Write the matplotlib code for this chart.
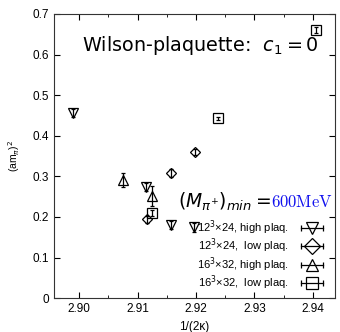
import matplotlib
matplotlib.use("Agg")
import matplotlib.pyplot as plt
from matplotlib.lines import Line2D
from matplotlib.legend_handler import HandlerLine2D
from matplotlib.ticker import MultipleLocator

plt.rcParams['font.family'] = ['Liberation Sans', 'DejaVu Sans']

# 12^3x24, high plaquette
x_12h = [2.8990, 2.9115, 2.9157, 2.9197]
y_12h = [0.455, 0.274, 0.180, 0.174]
e_12h = [0.010, 0.010, 0.010, 0.011]

# 12^3x24, low plaquette
x_12l = [2.9116, 2.9157, 2.9198]
y_12l = [0.194, 0.309, 0.360]
e_12l = [0.008, 0.010, 0.008]

# 16^3x32, high plaquette
x_16h = [2.9075, 2.9124]
y_16h = [0.290, 0.251]
e_16h = [0.017, 0.025]

# 16^3x32, low plaquette
x_16l = [2.9125, 2.9238, 2.9405]
y_16l = [0.210, 0.443, 0.661]
e_16l = [0.008, 0.004, 0.007]

labels = [r"12$^3$×24, high plaq.", r"12$^3$×24,  low plaq.",
          r"16$^3$×32, high plaq.", r"16$^3$×32,  low plaq."]
markers = ['v', 'D', '^', 's']

fig = plt.figure(figsize=(3.4, 3.32), dpi=100)
ax = fig.add_axes([0.159, 0.102, 0.826, 0.856])

series = [(x_12h, y_12h, e_12h), (x_12l, y_12l, e_12l),
          (x_16h, y_16h, e_16h), (x_16l, y_16l, e_16l)]
sizes = [6.5, 5, 7.5, 7]
for (x, y, e), m, s in zip(series, markers, sizes):
    ax.errorbar(x, y, yerr=e, fmt=m, ms=s, mfc='none', mec='k', mew=0.9,
                ecolor='k', elinewidth=0.9, capsize=1.5, capthick=0.9)

ax.set_xlim(2.8957, 2.9438)
ax.set_ylim(0, 0.7)
ax.xaxis.set_major_locator(MultipleLocator(0.01))
ax.xaxis.set_minor_locator(MultipleLocator(0.005))
ax.tick_params(which='both', direction='in', top=True, right=True, labelsize=8.5)
ax.tick_params(which='major', length=4)
ax.tick_params(which='minor', length=2.5)
ax.set_yticks([0, 0.1, 0.2, 0.3, 0.4, 0.5, 0.6, 0.7])
ax.set_yticklabels(['0', '0.1', '0.2', '0.3', '0.4', '0.5', '0.6', '0.7'])
for sp in ax.spines.values():
    sp.set_linewidth(0.8)
    sp.set_color('#333333')

ax.set_xlabel("1/(2κ)", fontsize=8.5, labelpad=4)
ax.set_ylabel(r"(am$_\pi$)$^2$", fontsize=7.5, labelpad=8)

ax.text(0.52, 0.89, r"Wilson-plaquette:  $c_1 = 0$", transform=ax.transAxes,
        ha='center', va='center', fontsize=13.8, family='DejaVu Sans',
        math_fontfamily='dejavusans')
ax.text(0.772, 0.338, r"$(M_{\pi^{+}})_{min} = $", transform=ax.transAxes,
        ha='right', va='center', fontsize=13.5, math_fontfamily='dejavusans')
ax.text(0.772, 0.338, r"$\mathrm{600MeV}$", transform=ax.transAxes,
        ha='left', va='center', fontsize=12, color='#1010ee', math_fontfamily='cm')

# legend handles: horizontal bar with end caps plus marker
caps = Line2D([], [], color='k', lw=0.9, marker='|', ms=4, mew=0.9)
handles, hmap = [], {}
for m in markers:
    mk = Line2D([], [], ls='none', marker=m, ms=8.5, mfc='none', mec='k', mew=0.9)
    handles.append((caps, mk))
    hmap[mk] = HandlerLine2D(numpoints=1)
hmap[caps] = HandlerLine2D(numpoints=2)
ax.legend(handles, labels, loc='lower right', handler_map=hmap,
          markerfirst=False, frameon=False, fontsize=8, handlelength=2.6,
          handleheight=0.5, handletextpad=0.8, labelspacing=0.0,
          borderaxespad=0.0, borderpad=0.0, bbox_to_anchor=(0.97, 0.02))

fig.savefig("out.png", dpi=100)
